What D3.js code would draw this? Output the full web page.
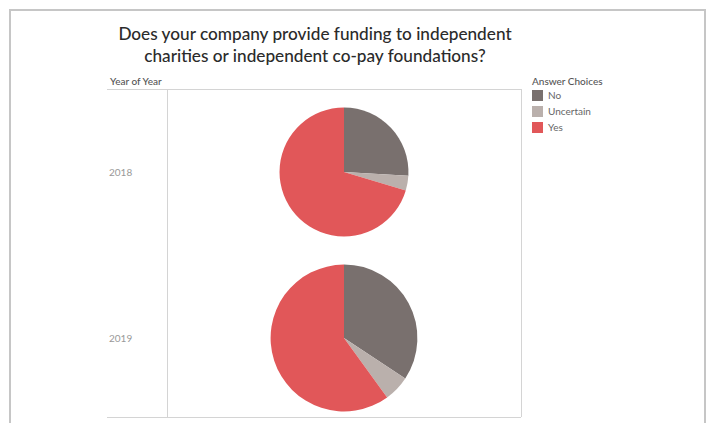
<!DOCTYPE html>
<html>
<head>
<meta charset="utf-8">
<script src="https://cdn.jsdelivr.net/npm/d3@7/dist/d3.min.js"></script>
<style>
  html, body { margin: 0; padding: 0; background: #fff; }
  svg { display: block; }
</style>
</head>
<body>
<svg id="chart" width="710" height="423"></svg>
<script>
// Survey answers by year (respondent counts)
const years = ["2018", "2019"];
const answers = ["No", "Uncertain", "Yes"];
const counts2018 = [7, 1, 19];
const counts2019 = [12, 2, 21];
const colors = ["#79706e", "#bab0ac", "#e15759"];
const titleLines = [
  "Does your company provide funding to independent",
  "charities or independent co-pay foundations?"
];

const rows = [
  { year: years[0], values: counts2018 },
  { year: years[1], values: counts2019 }
];

const svg = d3.select("#chart");
const W = 710, H = 423;

// Dashboard frame
svg.append("path")
  .attr("d", `M10,${H + 2} L10,10 L705,10 L705,${H + 2}`)
  .attr("fill", "none")
  .attr("stroke", "#c6c6c6")
  .attr("stroke-width", 2);

// Title
svg.append("g").selectAll("text")
  .data(titleLines)
  .join("text")
  .attr("x", 315)
  .attr("y", (d, i) => 40 + i * 22)
  .attr("text-anchor", "middle")
  .attr("font-family", "Lato, 'Open Sans', sans-serif")
  .attr("font-size", 17.2)
  .attr("font-weight", 500)
  .attr("fill", "#2b2b2b")
  .text(d => d);

// Panel layout
const panel = { left: 167, right: 521, top: 89, bottom: 417, headerLeft: 107 };

const y = d3.scaleBand()
  .domain(years)
  .range([panel.top, 421]);

const colorScale = d3.scaleOrdinal().domain(answers).range(colors);

// pie area encodes the number of respondents
const rScale = d3.scaleSqrt()
  .domain([0, d3.max(rows, r => d3.sum(r.values))])
  .range([0, 73.4]);

// Grid lines
const grid = svg.append("g").attr("stroke", "#d4d4d4").attr("stroke-width", 1).attr("shape-rendering", "crispEdges");
grid.append("line").attr("x1", panel.headerLeft).attr("x2", panel.right).attr("y1", panel.top).attr("y2", panel.top);
grid.append("line").attr("x1", panel.headerLeft).attr("x2", panel.right).attr("y1", panel.bottom).attr("y2", panel.bottom);
grid.append("line").attr("x1", panel.left).attr("x2", panel.left).attr("y1", panel.top).attr("y2", panel.bottom);
grid.append("line").attr("x1", panel.right).attr("x2", panel.right).attr("y1", panel.top).attr("y2", panel.bottom);

// Row header title
svg.append("text")
  .attr("x", 110)
  .attr("y", 85)
  .attr("font-family", "Lato, sans-serif")
  .attr("font-size", 10)
  .attr("font-weight", 500)
  .attr("fill", "#555")
  .text("Year of Year");

// Year labels
svg.append("g").selectAll("text")
  .data(years)
  .join("text")
  .attr("x", 109)
  .attr("y", d => y(d) + y.bandwidth() / 2 + 4)
  .attr("font-family", "Lato, sans-serif")
  .attr("font-size", 10)
  .attr("fill", "#999")
  .text(d => d);

// Pies
const pie = d3.pie().sort(null).value(d => d.value);
const cx = (panel.left + panel.right) / 2;

rows.forEach(row => {
  const data = answers.map((a, i) => ({ answer: a, value: row.values[i] }));
  const r = rScale(d3.sum(row.values));
  const arc = d3.arc().innerRadius(0).outerRadius(r);
  svg.append("g")
    .attr("transform", `translate(${cx},${y(row.year) + y.bandwidth() / 2})`)
    .selectAll("path")
    .data(pie(data))
    .join("path")
    .attr("d", arc)
    .attr("fill", d => colorScale(d.data.answer));
});

// Legend
const legend = svg.append("g").attr("transform", "translate(532,0)");
legend.append("text")
  .attr("x", 0)
  .attr("y", 85)
  .attr("font-family", "Lato, sans-serif")
  .attr("font-size", 10)
  .attr("font-weight", 500)
  .attr("fill", "#555")
  .text("Answer Choices");

const items = legend.selectAll("g.item")
  .data(answers)
  .join("g")
  .attr("class", "item")
  .attr("transform", (d, i) => `translate(0,${90 + i * 16})`);
items.append("rect")
  .attr("width", 11)
  .attr("height", 11)
  .attr("fill", d => colorScale(d));
items.append("text")
  .attr("x", 16)
  .attr("y", 9)
  .attr("font-family", "Lato, sans-serif")
  .attr("font-size", 10)
  .attr("fill", "#666")
  .text(d => d);
</script>
</body>
</html>
